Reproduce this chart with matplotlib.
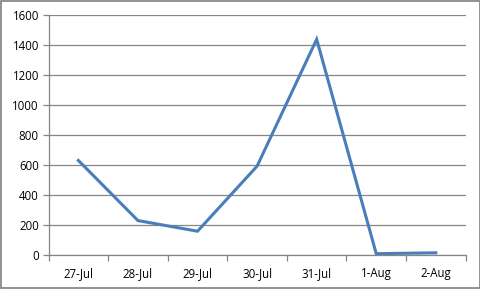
import numpy as np
import matplotlib
matplotlib.use('Agg')
import matplotlib.pyplot as plt
from matplotlib.patches import Rectangle

# data
dates = ['27-Jul', '28-Jul', '29-Jul', '30-Jul', '31-Jul', '1-Aug', '2-Aug']
counts = [630, 229, 158, 592, 1438, 8, 14]
y_ticks = [0, 200, 400, 600, 800, 1000, 1200, 1400, 1600]

grey = '#868686'
plt.rcParams['font.family'] = ['Open Sans', 'DejaVu Sans']

fig = plt.figure(figsize=(4.81, 2.89), dpi=100)
ax = fig.add_axes([0.101, 0.118, 0.867, 0.830])

x = np.arange(len(dates))
ax.plot(x, counts, color='#4A7EBB', linewidth=2.2, solid_joinstyle='miter')

ax.set_xlim(-0.5, len(dates) - 0.5)
ax.set_ylim(0, 1600)
ax.set_yticks(y_ticks)
ax.set_yticklabels([str(v) for v in y_ticks], fontsize=8.3)
ax.yaxis.grid(True, color=grey, linewidth=0.9)
ax.set_axisbelow(True)

# category labels centered, tick marks on boundaries
ax.set_xticks(x)
ax.set_xticklabels(dates, fontsize=8.3)
ax.tick_params(axis='x', length=0, pad=9)
ax.set_xticks(np.arange(-0.5, len(dates)), minor=True)
ax.tick_params(axis='x', which='minor', length=4, color=grey, width=0.9, direction='out')
ax.tick_params(axis='y', length=4, color=grey, width=0.9, pad=3)

for side in ['top', 'right']:
    ax.spines[side].set_visible(False)
for side in ['left', 'bottom']:
    ax.spines[side].set_color(grey)
    ax.spines[side].set_linewidth(0.9)

# outer chart border
fig.patches.append(Rectangle((0.002, 0.003), 0.995, 0.993, transform=fig.transFigure,
                             fill=False, edgecolor='#7f7f7f', linewidth=1.2))

fig.savefig('out.png', dpi=100)
